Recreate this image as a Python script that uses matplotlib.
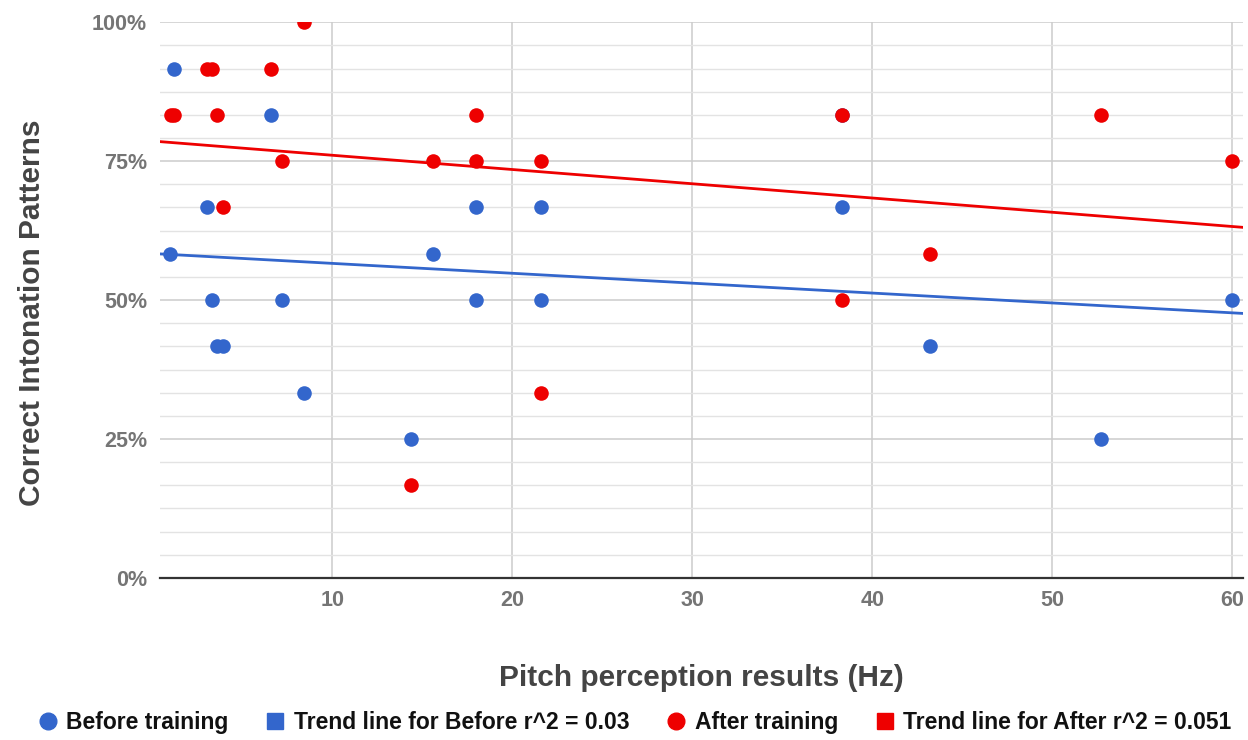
import numpy as np
import matplotlib

matplotlib.use('Agg')
import matplotlib.pyplot as plt
from matplotlib.lines import Line2D
from matplotlib.ticker import MultipleLocator, PercentFormatter

plt.rcParams['font.family'] = ['Liberation Sans', 'DejaVu Sans']
plt.rcParams['font.weight'] = 'bold'

# pitch perception (Hz) and correct patterns (in twelfths) per participant
before_x = [1.22, 0.98, 3.02, 3.31, 3.6, 3.9, 6.59, 7.2, 8.4, 14.37, 15.57,
            17.98, 17.98, 21.6, 21.6, 38.3, 38.3, 43.2, 52.7, 60]
before_y = [11, 7, 8, 6, 5, 5, 10, 6, 4, 3, 7, 8, 6, 8, 6, 8, 10, 5, 3, 6]
after_x = [1.04, 1.18, 3.02, 3.31, 3.6, 3.9, 6.59, 7.2, 8.4, 14.37, 15.57,
           17.98, 17.98, 21.6, 21.6, 38.3, 38.3, 43.2, 52.7, 60]
after_y = [10, 10, 11, 11, 10, 8, 11, 9, 12, 2, 9, 10, 9, 9, 4, 10, 6, 7, 10, 9]

labels = ['Before training', 'Trend line for Before r^2 = 0.03',
          'After training', 'Trend line for After r^2 = 0.051']
blue = '#3366cc'
red = '#ee0000'

bx = np.array(before_x)
by = np.array(before_y) / 12
ax_ = np.array(after_x)
ay = np.array(after_y) / 12

fig = plt.figure(figsize=(12.48, 7.4), dpi=100)
ax = fig.add_axes([0.128, 0.219, 0.868, 0.751])

xmin, xmax = 0.4, 60.6
ax.set_xlim(xmin, xmax)
ax.set_ylim(0, 1)

# trend lines (least squares)
xs = np.array([xmin, xmax])
pb = np.polyfit(bx, by, 1)
pa = np.polyfit(ax_, ay, 1)
ax.plot(xs, np.polyval(pb, xs), color=blue, lw=2, zorder=3)
ax.plot(xs, np.polyval(pa, xs), color=red, lw=2, zorder=3)

ax.scatter(bx, by, s=110, color=blue, zorder=4, linewidths=0)
ax.scatter(ax_, ay, s=110, color=red, zorder=5, linewidths=0)

ax.xaxis.set_major_locator(MultipleLocator(10))
ax.yaxis.set_major_locator(MultipleLocator(0.25))
ax.yaxis.set_minor_locator(MultipleLocator(1 / 24))
ax.yaxis.set_major_formatter(PercentFormatter(1.0, decimals=0))
ax.grid(which='major', color='#cccccc', lw=1.1, zorder=0)
ax.grid(which='minor', axis='y', color='#e3e3e3', lw=1, zorder=0)
ax.set_axisbelow(True)
ax.tick_params(which='both', length=0, labelsize=15.5, labelcolor='#757575')
ax.tick_params(axis='x', pad=9)
ax.tick_params(axis='y', pad=9)
for s in ['top', 'right', 'left']:
    ax.spines[s].set_visible(False)
ax.spines['bottom'].set_color('#333333')
ax.spines['bottom'].set_linewidth(1.6)
ax.spines['bottom'].set_zorder(6)

ax.set_xlabel('Pitch perception results (Hz)', fontsize=21.5, color='#444444',
              fontweight='bold', labelpad=38)
ax.set_ylabel('Correct Intonation Patterns', fontsize=21.5, color='#444444',
              fontweight='bold')
ax.yaxis.set_label_coords(-0.105, 0.478)

handles = [
    Line2D([], [], ls='none', marker='o', ms=12, color=blue),
    Line2D([], [], ls='none', marker='s', ms=11, color=blue),
    Line2D([], [], ls='none', marker='o', ms=12, color=red),
    Line2D([], [], ls='none', marker='s', ms=11, color=red),
]
fig.legend(handles, labels, loc='center', bbox_to_anchor=(0.508, 0.024), ncol=4,
           frameon=False, fontsize=16.5, handletextpad=0.3, columnspacing=1.55,
           handlelength=1.0, labelcolor='#111111')

fig.savefig('out.png', dpi=100)
